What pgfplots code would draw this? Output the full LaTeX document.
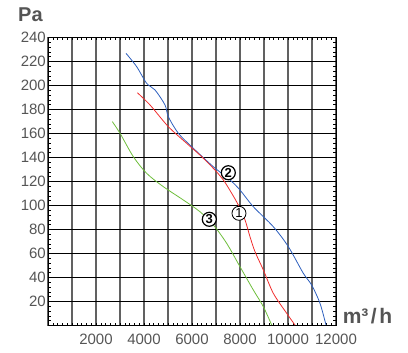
\documentclass[border=0pt]{standalone}
\usepackage{fontspec}
\setmainfont{Liberation Sans}
\usepackage{pgfplots}
\pgfplotsset{compat=1.18}
\definecolor{cblue}{RGB}{45,95,190}
\definecolor{cred}{RGB}{240,45,45}
\definecolor{cgreen}{RGB}{110,190,60}
\definecolor{labgray}{RGB}{85,85,85}
\begin{document}
\begin{tikzpicture}
\begin{axis}[
  at={(0,0)}, anchor=south west,
  width=288bp, height=288bp, scale only axis,
  xmin=0, xmax=12000, ymin=0, ymax=240,
  xtick={0,1000,...,12000},
  xticklabels={{},{},2000,{},4000,{},6000,{},8000,{},10000,{},12000},
  ytick={0,20,...,240},
  yticklabels={{},20,40,60,80,100,120,140,160,180,200,220,240},
  minor x tick num=4, minor y tick num=4,
  tick align=inside,
  major tick length=3bp, minor tick length=3bp,
  every tick/.style={black, line width=0.6bp},
  grid=major,
  x grid style={color=black!62, line width=1.3bp},
  y grid style={color=black, line width=0.9bp},
  axis line style={black, line width=0.9bp},
  /pgf/number format/assume math mode=true,
  ticklabel style={font=\fontsize{15bp}{15bp}\selectfont, text=labgray},
  xticklabel style={inner sep=0pt, yshift=-8bp},
  yticklabel style={inner sep=0pt, xshift=-2bp},
  clip=false,
]
\addplot[cblue, line width=0.8bp, smooth] coordinates {
(3250,226.8) (3694,215.7) (4111,201.8) (4458,196.3) (4875,183.8) (5014,174)
(5431,160.2) (6055,147.7) (6889,132.3) (7583,121.3) (8000,112.9) (8555,99)
(9389,82.3) (10014,65.7) (10638,43.5) (10986,33.7) (11333,18.5) (11583,0.4)};
\addplot[cred, line width=0.8bp, smooth] coordinates {
(3722,194) (4250,183.8) (5014,165.7) (5778,151.8) (6333,142) (6889,131)
(7305,121.3) (7653,110.2) (7930,100.4) (8208,88) (8416,74) (8625,61.5)
(8972,46.3) (9389,26.8) (9944,10.2) (10291,0.4)};
\addplot[cgreen, line width=0.8bp, smooth] coordinates {
(2680,169.9) (3000,160.2) (3555,140.7) (4111,126.8) (4805,115.7) (5638,104.6)
(6333,94.8) (6889,83.8) (7444,68.5) (8000,49) (8555,29.6) (8972,15.7) (9320,0.4)};
\node[circle, draw=black, fill=white, line width=0.8bp, inner sep=0pt, minimum size=14bp,
  font=\fontsize{13bp}{13bp}\selectfont] at (axis cs:7958,93.5) {1};
\node[circle, draw=black, fill=white, line width=1.2bp, inner sep=0pt, minimum size=14bp,
  font=\fontsize{13bp}{13bp}\selectfont\bfseries] at (axis cs:7513,127.3) {2};
\node[circle, draw=black, fill=white, line width=1.2bp, inner sep=0pt, minimum size=14bp,
  font=\fontsize{13bp}{13bp}\selectfont\bfseries] at (axis cs:6721,88.5) {3};
\node[anchor=base west, inner sep=0pt, text=labgray, font=\fontsize{20bp}{20bp}\selectfont\bfseries]
  at (axis description cs:-0.104,1.055) {Pa};
\node[anchor=base west, inner sep=0pt, text=labgray, font=\fontsize{21bp}{21bp}\selectfont\bfseries]
  at (axis description cs:1.023,0.0076) {m³\kern2.5bp/\kern2.5bp h};
\end{axis}
\pgfresetboundingbox
\path[use as bounding box] (-48bp,-27.5bp) rectangle (360bp,325.5bp);
\end{tikzpicture}
\end{document}
